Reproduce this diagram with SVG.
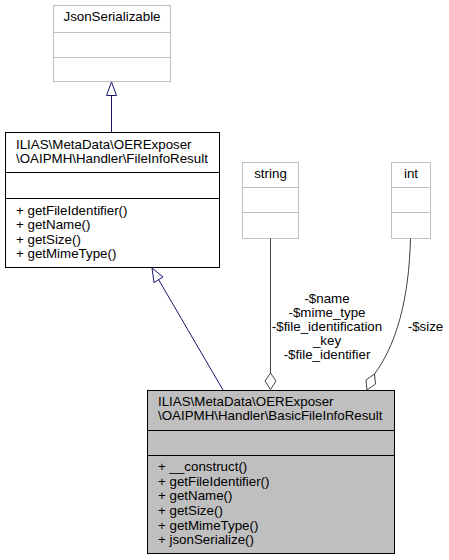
<svg xmlns="http://www.w3.org/2000/svg" width="449" height="560" viewBox="0 0 449 560">
<style>
text{font-family:"Liberation Sans",Arial,sans-serif;font-size:13.33px;fill:#000}
.c{text-anchor:middle}
.grey{fill:#fff;stroke:#bfbfbf;stroke-width:1}
.blk{fill:#fff;stroke:#000;stroke-width:1}
.cur{fill:#bfbfbf;stroke:#000;stroke-width:1}
.inh{fill:none;stroke:#191970;stroke-width:1}
.use{fill:none;stroke:#404040;stroke-width:1}
</style>
<rect width="449" height="560" fill="#fff"/>
<g id="node-JsonSerializable">
<rect class="grey" x="53.5" y="5.5" width="117" height="76"/>
<line class="grey" x1="53.5" y1="32.5" x2="170.5" y2="32.5"/>
<line class="grey" x1="53.5" y1="57.5" x2="170.5" y2="57.5"/>
<text class="c" x="112" y="21">JsonSerializable</text>
</g>
<g id="node-FileInfoResult">
<rect class="blk" x="5.5" y="132.5" width="214" height="135"/>
<line class="blk" x1="5.5" y1="172.5" x2="219.5" y2="172.5"/>
<line class="blk" x1="5.5" y1="198.5" x2="219.5" y2="198.5"/>
<text x="16" y="149">ILIAS\MetaData\OERExposer</text>
<text x="16" y="163">\OAIPMH\Handler\FileInfoResult</text>
<text x="16" y="215">+ getFileIdentifier()</text>
<text x="16" y="229">+ getName()</text>
<text x="16" y="244">+ getSize()</text>
<text x="16" y="258">+ getMimeType()</text>
</g>
<g id="node-string">
<rect class="grey" x="242.5" y="162.5" width="56" height="76"/>
<line class="grey" x1="242.5" y1="187.5" x2="298.5" y2="187.5"/>
<line class="grey" x1="242.5" y1="212.5" x2="298.5" y2="212.5"/>
<text class="c" x="270.5" y="178">string</text>
</g>
<g id="node-int">
<rect class="grey" x="391.5" y="162.5" width="39" height="76"/>
<line class="grey" x1="391.5" y1="187.5" x2="430.5" y2="187.5"/>
<line class="grey" x1="391.5" y1="212.5" x2="430.5" y2="212.5"/>
<text class="c" x="411" y="178">int</text>
</g>
<g id="node-BasicFileInfoResult">
<rect class="cur" x="147.5" y="390.5" width="247" height="163"/>
<line class="cur" x1="147.5" y1="430.5" x2="394.5" y2="430.5"/>
<line class="cur" x1="147.5" y1="455.5" x2="394.5" y2="455.5"/>
<text x="158" y="406">ILIAS\MetaData\OERExposer</text>
<text x="158" y="420">\OAIPMH\Handler\BasicFileInfoResult</text>
<text x="158" y="471">+ __construct()</text>
<text x="158" y="486">+ getFileIdentifier()</text>
<text x="158" y="500">+ getName()</text>
<text x="158" y="515">+ getSize()</text>
<text x="158" y="530">+ getMimeType()</text>
<text x="158" y="544">+ jsonSerialize()</text>
</g>
<g id="connectors">
<line class="inh" x1="111.5" y1="132" x2="111.5" y2="95.5"/>
<polygon class="inh" fill="#fff" points="111.5,82 106.5,95.5 116.5,95.5"/>
<line class="inh" x1="223" y1="390" x2="158.5" y2="279.5"/>
<polygon class="inh" fill="#fff" points="152,268 154,282.5 163,277"/>
<line class="use" x1="270.5" y1="238.5" x2="270.5" y2="373"/>
<polygon class="use" fill="#fff" points="270.5,373 265,381 270.5,389.5 276,381"/>
<path class="use" d="M410.5,238.5 C409,300 396,345 374.5,374"/>
<polygon class="use" fill="#fff" points="374.5,374 375.5,384 367,390 366,380"/>
<text class="c" x="327" y="303">-$name</text>
<text class="c" x="327" y="317">-$mime_type</text>
<text class="c" x="327" y="331">-$file_identification</text>
<text class="c" x="327" y="345">_key</text>
<text class="c" x="327" y="359">-$file_identifier</text>
<text class="c" x="425.5" y="331">-$size</text>
</g>
</svg>
